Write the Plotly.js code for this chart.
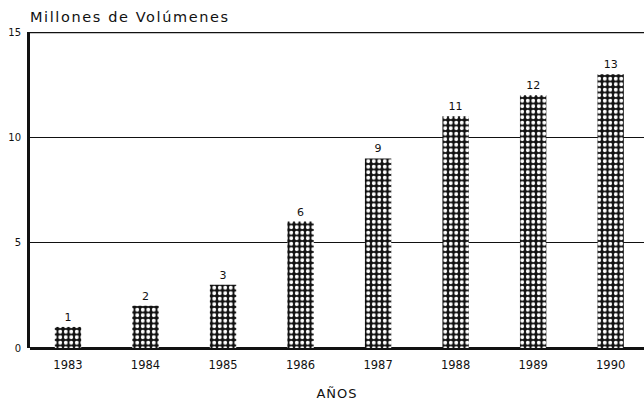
<!DOCTYPE html>
<html><head><meta charset="utf-8">
<script src="https://cdn.plot.ly/plotly-3.0.1.min.js"></script>
<style>html,body{margin:0;padding:0;background:#fff}
.annotation-text{letter-spacing:1.6px}
.xtitle{letter-spacing:1px}
</style>
</head><body>
<div id="chart" style="width:644px;height:403px"></div>
<script>
const years = ["1983","1984","1985","1986","1987","1988","1989","1990"];
const volumes = [1, 2, 3, 6, 9, 11, 12, 13];
const yTicks = [0, 5, 10, 15];

const FONT = 'DejaVu Sans, Liberation Sans, Arial, sans-serif';

const trace = {
  type: 'bar',
  x: years,
  y: volumes,
  text: volumes.map(String),
  textposition: 'outside',
  cliponaxis: false,
  textfont: {family: FONT, size: 11, color: '#111'},
  width: 0.34,
  marker: {
    color: '#111',
    line: {width: 0},
    pattern: {shape: '.', fgcolor: '#ffffff', bgcolor: '#111111', fgopacity: 1, size: 5.5, solidity: 0.4, fillmode: 'replace'}
  },
  hoverinfo: 'none'
};

const layout = {
  width: 644, height: 403,
  margin: {l: 30, r: 0, t: 32, b: 55},
  paper_bgcolor: '#fff', plot_bgcolor: '#fff',
  font: {family: FONT, color: '#111', size: 11},
  showlegend: false,
  bargap: 0.66,
  xaxis: {
    type: 'category',
    range: [-0.49, 7.43],
    showline: false, showgrid: false, zeroline: false,
    ticks: '', tickfont: {size: 11.5}, ticklabelstandoff: 8,
    title: {text: 'AÑOS', font: {size: 13}, standoff: 18}
  },
  yaxis: {
    range: [0, 15], tickvals: yTicks, ticktext: yTicks.map(String),
    showline: true, linewidth: 3, linecolor: '#111',
    showgrid: true, gridcolor: '#111', gridwidth: 1.5,
    zeroline: true, zerolinecolor: '#111', zerolinewidth: 3,
    ticks: '', tickfont: {size: 10}, ticklabelstandoff: 4
  },
  shapes: [
    {type: 'line', xref: 'paper', yref: 'y', x0: 0, x1: 1, y0: 15, y1: 15, line: {color: '#111', width: 2.5}}
  ],
  annotations: [
    {text: 'Millones de Volúmenes', xref: 'paper', yref: 'paper', x: 0, y: 1, xanchor: 'left', yanchor: 'bottom', yshift: 5, xshift: -2, showarrow: false, font: {size: 14.5, color: '#111'}}
  ]
};

Plotly.newPlot('chart', [trace], layout, {displayModeBar: false, staticPlot: true});
</script>
</body></html>
